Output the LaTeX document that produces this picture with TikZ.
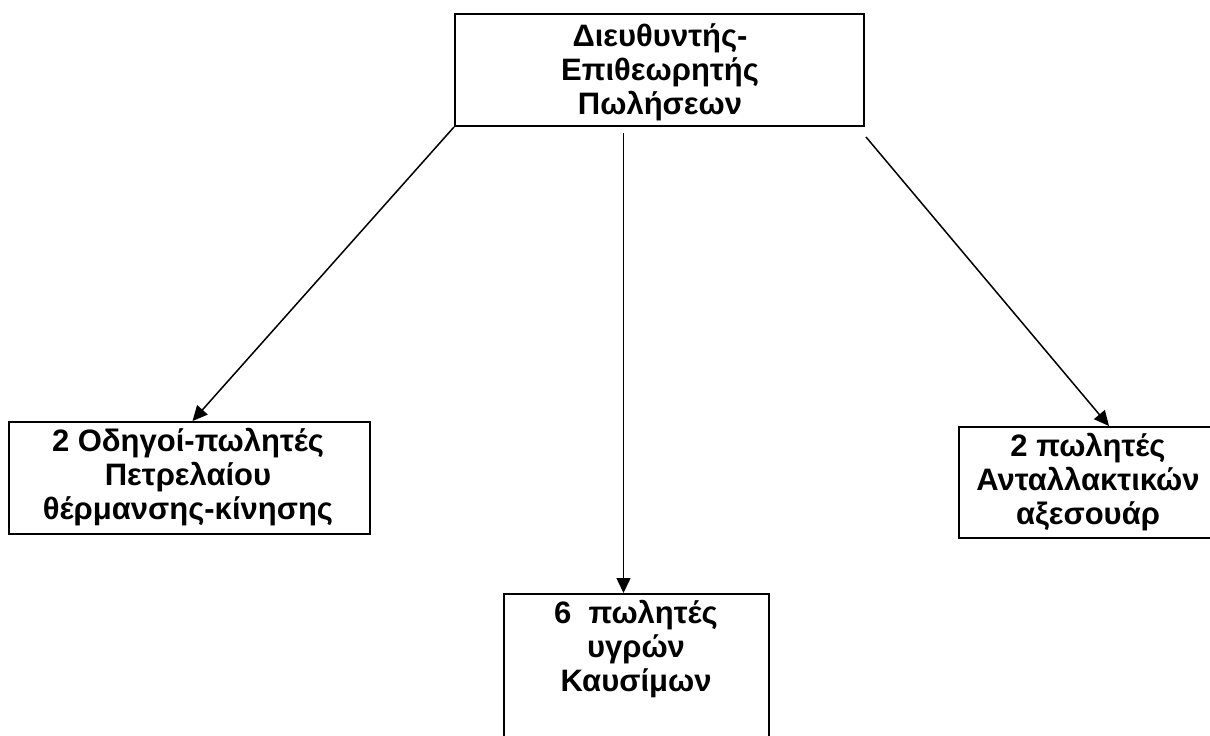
\documentclass[tikz,border=0pt]{standalone}
\usepackage{fontspec}
\setmainfont{Liberation Sans}
\usetikzlibrary{arrows.meta}
\begin{document}
\begin{tikzpicture}[x=1pt,y=-1pt,
  box/.style={draw=black,line width=2pt,inner sep=0pt,anchor=north west},
  label/.style={align=center,inner sep=0pt,anchor=north,
    font=\fontsize{31}{34}\selectfont\bfseries},
  arr/.style={line width=1.5pt,-{Triangle[length=15pt,width=14pt]}}]
\useasboundingbox (0,0) rectangle (1210,736);
% boxes
\node[box,minimum width=409pt,minimum height=112pt] (top) at (454,13) {};
\node[box,minimum width=361pt,minimum height=112pt] (left) at (8,421) {};
\node[box,minimum width=265pt,minimum height=200pt] (mid) at (503,593) {};
\node[box,minimum width=270pt,minimum height=111pt] (right) at (958,426) {};
% box texts
\node[label] (ttop) at (660,23) {Διευθυντής-\\Επιθεωρητής\\Πωλήσεων};
\node[label] (tleft) at (188,428) {2 Οδηγοί-πωλητές\\Πετρελαίου\\θέρμανσης-κίνησης};
\node[label] (tmid) at (636,600) {6\ \ πωλητές\\υγρών\\Καυσίμων};
\node[label] (tright) at (1088,433) {2 πωλητές\\Ανταλλακτικών\\αξεσουάρ};
% connectors
\coordinate (sm) at ([xshift=-36pt,yshift=-6pt]top.south);
\coordinate (sr) at ([xshift=1pt,yshift=-10pt]top.south east);
\draw[arr] (top.south west) -- ([xshift=3pt]left.north);
\draw[arr] (sm) -- (sm |- mid.north);
\draw[arr] (sr) -- ([xshift=15pt]right.north);
\end{tikzpicture}
\end{document}
